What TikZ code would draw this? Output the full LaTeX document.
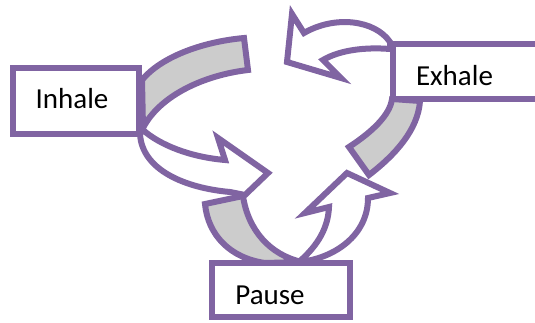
\documentclass[tikz,border=0pt]{standalone}
\usepackage{fontspec}
\setmainfont{Carlito}
\definecolor{purp}{HTML}{8064A2}
\definecolor{bandgray}{HTML}{CCCCCC}
\begin{document}
\begin{tikzpicture}[x=1pt,y=-1pt,
  shapeline/.style={draw=purp,line width=6pt,line join=miter},
  band/.style={shapeline,fill=bandgray},
  arrowbody/.style={shapeline,fill=white},
  box/.style={shapeline,fill=white,rectangle,inner sep=0pt},
  lbl/.style={font=\fontsize{29}{34}\selectfont,inner sep=0pt,anchor=base}]
\useasboundingbox (0,0) rectangle (535,322);
\clip (0,0) rectangle (535,322);
% Inhale curved arrow
\draw[band] (142,80) .. controls (160,58) and (200,42) .. (244,38) -- (248,70)
  .. controls (205,75) and (160,95) .. (143,128) -- cycle;
\draw[arrowbody] (143,130) .. controls (160,145) and (190,157) .. (225,160)
  -- (218,138) -- (268,173) -- (245,195) -- (230,192)
  .. controls (185,188) and (142,170) .. (140,134) -- cycle;
% Exhale curved arrow
\draw[band] (392,99) .. controls (390,115) and (372,132) .. (349,147) -- (369,175)
  .. controls (395,155) and (418,130) .. (420,101) -- cycle;
\draw[arrowbody] (390,42) .. controls (375,20) and (335,15) .. (304,33)
  -- (292,14) -- (287,62) -- (341,78) -- (323,60)
  .. controls (340,50) and (365,47) .. (390,49) -- cycle;
% Pause curved arrow
\draw[band] (205,204) -- (243,196) .. controls (248,230) and (270,255) .. (302,262)
  -- (265,263) .. controls (230,258) and (208,235) .. (205,204) -- cycle;
\draw[arrowbody] (300,261) .. controls (318,245) and (328,228) .. (329,207)
  -- (305,213) -- (347,173) -- (390,193) -- (368,198)
  .. controls (368,235) and (335,258) .. (300,262) -- cycle;
% boxes
\node[box,minimum width=126pt,minimum height=66pt] (inhale) at (76,101) {};
\node[box,minimum width=157pt,minimum height=55pt] (exhale) at (471,71.5) {};
\node[box,minimum width=138.5pt,minimum height=54pt] (pause) at (280.75,290) {};
\node[lbl] (inhaleT) at (72,108) {Inhale};
\node[lbl] (exhaleT) at (454.5,85) {Exhale};
\node[lbl] (pauseT) at (270,304) {Pause};
\end{tikzpicture}
\end{document}
